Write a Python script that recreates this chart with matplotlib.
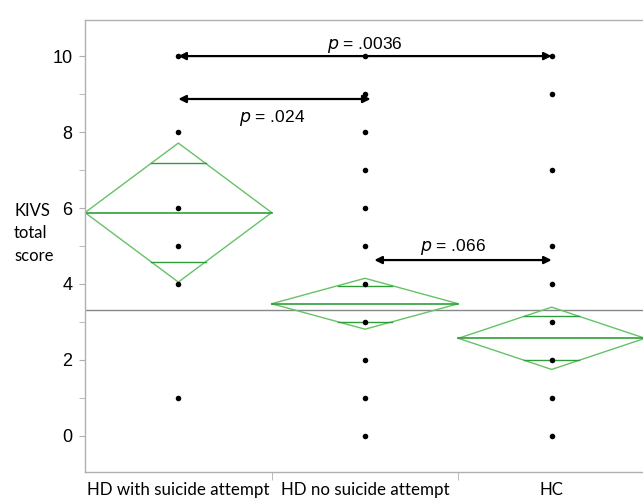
import matplotlib
matplotlib.use("Agg")
import matplotlib.pyplot as plt
import numpy as np

# ---- data ----
categories = ["HD with suicide attempt", "HD no suicide attempt", "HC"]
points_g1 = [10, 8, 6, 5, 4, 1]
points_g2 = [10, 9, 8, 7, 6, 5, 4, 3, 2, 1, 0]
points_g3 = [10, 9, 7, 5, 4, 3, 2, 1, 0]
means = [5.88, 3.48, 2.57]
ci_half = [1.83, 0.67, 0.82]
grand_mean = 3.32
comparisons = [  # (x_from, x_to, y, p-value text)
    (0.0, 2.0, 10.0, ".0036"),
    (0.0, 1.03, 8.87, ".024"),
    (1.05, 2.0, 4.63, ".066"),
]
label_pos = [(1.0, 10.28), (0.5, 8.38), (1.47, 4.98)]
yticks = [0, 2, 4, 6, 8, 10]

fig = plt.figure(figsize=(6.43, 5.01), dpi=100)
ax = fig.add_axes([85/643, 1-472/501, 560/643, (472-20)/501])
ax.set_xlim(-0.5, 2.5)
ax.set_ylim(-0.95, 10.95)

spine_c = "#b0b0b0"
for s in ["left", "top", "bottom"]:
    ax.spines[s].set_color(spine_c)
    ax.spines[s].set_linewidth(1.0)
ax.spines["right"].set_visible(False)

# y ticks
ax.set_yticks(yticks)
ax.set_yticklabels([str(v) for v in yticks], fontsize=13, family="Liberation Sans")
ax.set_yticks(range(0, 11), minor=True)
ax.tick_params(axis="y", which="both", direction="out", length=4, color=spine_c, pad=5)

# x ticks: labels at categories, tick marks between
ax.set_xticks(range(len(categories)))
ax.set_xticklabels(categories, fontsize=12.2, family="Lato")
ax.tick_params(axis="x", which="major", length=0, pad=7.5)
ax.set_xticks([0.5, 1.5], minor=True)
ax.tick_params(axis="x", which="minor", direction="out", length=6, color=spine_c)

# grand mean line
ax.axhline(grand_mean, color="#888888", lw=1.0, zorder=1)

# diamonds
dcol = "#66c266"
icol = "#2f9e3a"
hw = 0.5
for i, (m, h) in enumerate(zip(means, ci_half)):
    xs = [i - hw, i, i + hw, i, i - hw]
    ys = [m, m + h, m, m - h, m]
    ax.plot(xs, ys, color=dcol, lw=1.0, zorder=2)
    ax.plot([i - hw, i + hw], [m, m], color=icol, lw=1.2, zorder=2)
    k = np.sqrt(2) / 2
    w = hw * (1 - k)
    for yy in (m + h * k, m - h * k):
        ax.plot([i - w, i + w], [yy, yy], color=icol, lw=1.0, zorder=2)

# points
for i, pts in enumerate([points_g1, points_g2, points_g3]):
    ax.scatter([i] * len(pts), pts, s=16, color="black", zorder=3, linewidths=0)

# comparison arrows
for (x0, x1, y, lab), (lx, ly) in zip(comparisons, label_pos):
    ax.annotate("", xy=(x1, y), xytext=(x0, y),
                arrowprops=dict(arrowstyle="<|-|>", color="black", lw=1.6,
                                mutation_scale=11, shrinkA=0, shrinkB=0),
                zorder=4)
    ax.text(lx, ly, r"$\it{p}$ = " + lab, ha="center", va="center",
            fontsize=12.5, family="Liberation Sans")

fig.text(14/643, 1-203/501, "KIVS\ntotal\nscore", ha="left", va="top",
         fontsize=12, family="Lato", linespacing=1.5)

fig.savefig("out.png", dpi=100)
